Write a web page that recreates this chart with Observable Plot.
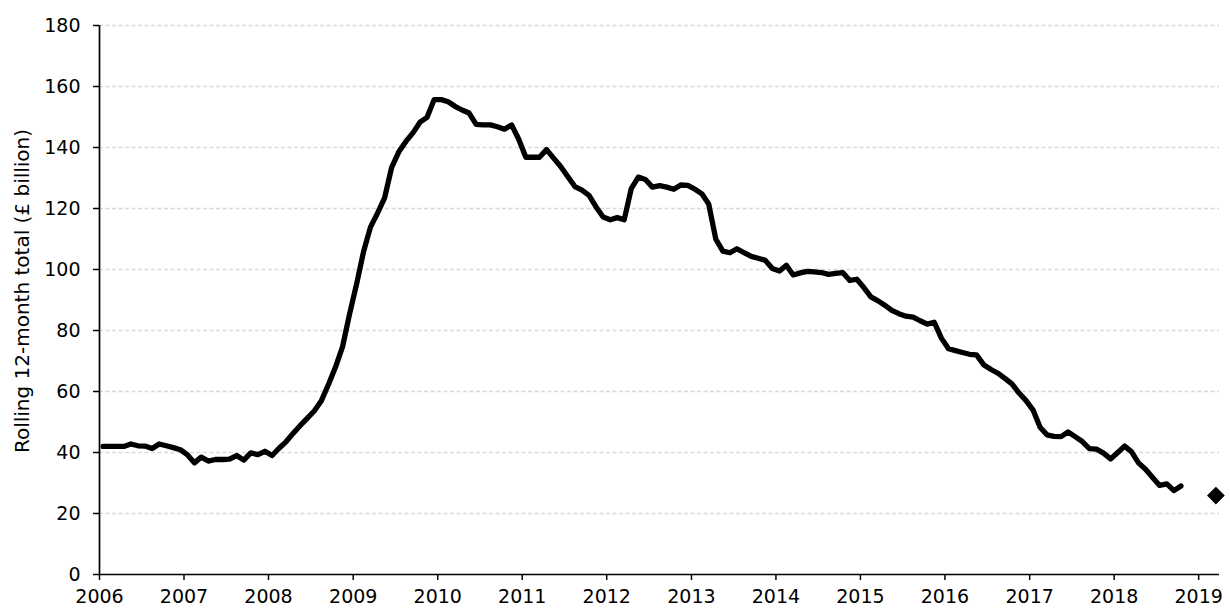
<!DOCTYPE html>
<html>
<head>
<meta charset="utf-8">
<script src="https://cdn.jsdelivr.net/npm/d3@7"></script>
<script src="https://cdn.jsdelivr.net/npm/@observablehq/plot@0.6"></script>
<style>
  html, body { margin: 0; padding: 0; background: #fff; }
  #chart { width: 1230px; height: 611px; }
</style>
</head>
<body>
<div id="chart"></div>
<script>
// ---- Data ----
const startYear = 2006;           // first month: January 2006, monthly data
const borrowing2006 = [42.0, 42.0, 42.0, 42.0, 42.8, 42.2, 42.1, 41.3, 42.8, 42.2, 41.6, 40.9];
const borrowing2007 = [39.2, 36.6, 38.5, 37.2, 37.7, 37.7, 37.8, 39.0, 37.5, 39.9, 39.3, 40.4];
const borrowing2008 = [39.0, 41.4, 43.5, 46.2, 48.8, 51.2, 53.6, 57.0, 62.3, 68.0, 74.7, 85.5];
const borrowing2009 = [95.5, 106.0, 113.9, 118.5, 123.5, 133.5, 138.5, 142.0, 144.8, 148.3, 149.9, 155.7];
const borrowing2010 = [155.7, 155.0, 153.5, 152.3, 151.3, 147.6, 147.4, 147.4, 146.8, 146.0, 147.4, 142.8];
const borrowing2011 = [136.8, 136.8, 136.8, 139.3, 136.5, 133.8, 130.5, 127.2, 126.0, 124.3, 120.5, 117.2];
const borrowing2012 = [116.3, 117.0, 116.3, 126.5, 130.3, 129.5, 127.0, 127.5, 127.0, 126.3, 127.7, 127.6];
const borrowing2013 = [126.3, 124.8, 121.5, 110.0, 106.0, 105.5, 106.8, 105.5, 104.3, 103.7, 103.0, 100.3];
const borrowing2014 = [99.5, 101.4, 98.2, 98.9, 99.4, 99.2, 99.0, 98.4, 98.7, 99.0, 96.4, 96.8];
const borrowing2015 = [94.0, 91.0, 89.8, 88.3, 86.6, 85.5, 84.7, 84.4, 83.2, 82.1, 82.7, 77.5];
const borrowing2016 = [74.0, 73.4, 72.8, 72.2, 72.0, 68.8, 67.3, 66.0, 64.3, 62.5, 59.5, 57.0];
const borrowing2017 = [53.8, 48.3, 45.8, 45.3, 45.2, 46.7, 45.2, 43.6, 41.3, 41.1, 39.8, 37.9];
const borrowing2018 = [40.0, 42.1, 40.3, 36.6, 34.5, 31.8, 29.2, 29.7, 27.5, 29.0]; // to October 2018

const forecastMonth = "2019-03";  // forecast marker
const forecastValue = 25.9;

const xTickYears = [2006, 2007, 2008, 2009, 2010, 2011, 2012, 2013, 2014, 2015, 2016, 2017, 2018, 2019];
const yTicks = [0, 20, 40, 60, 80, 100, 120, 140, 160, 180];
const yLabel = "Rolling 12-month total (£ billion)";
const xDomainStart = "2006-01";
const xDomainEnd = "2019-04";

// ---- Build table ----
const allValues = [].concat(borrowing2006, borrowing2007, borrowing2008, borrowing2009,
  borrowing2010, borrowing2011, borrowing2012, borrowing2013, borrowing2014,
  borrowing2015, borrowing2016, borrowing2017, borrowing2018);

function midMonth(y, m) { // m zero-based
  const a = Date.UTC(y, m, 1), b = Date.UTC(y, m + 1, 1);
  return new Date((a + b) / 2);
}
const parseMonth = s => { const [y, m] = s.split("-").map(Number); return [y, m - 1]; };

const series = allValues.map((v, i) => ({date: midMonth(startYear, i), value: v}));
const [fy, fm] = parseMonth(forecastMonth);
const forecast = [{date: midMonth(fy, fm), value: forecastValue}];
const [sy, sm] = parseMonth(xDomainStart);
const [ey, em] = parseMonth(xDomainEnd);
const x0 = new Date(Date.UTC(sy, sm, 1));
const x1 = new Date(Date.UTC(ey, em, 1));
const xTicks = xTickYears.map(y => new Date(Date.UTC(y, 0, 1)));

const FONT = "'DejaVu Sans', sans-serif";

const chart = Plot.plot({
  width: 1230,
  height: 611,
  marginLeft: 99,
  marginRight: 11,
  marginTop: 25,
  marginBottom: 37,
  style: {fontFamily: FONT, fontSize: "19px", color: "#000", background: "#fff"},
  x: {type: "utc", domain: [x0, x1]},
  y: {domain: [0, 180]},
  marks: [
    Plot.gridY(yTicks.filter(d => d > 0), {stroke: "#d9d9d9", strokeOpacity: 1, strokeWidth: 1.3, strokeDasharray: "4,2.5"}),
    Plot.axisY(yTicks, {tickSize: 6, tickPadding: 13, strokeWidth: 1.5, label: null, fontSize: 19}),
    Plot.axisX(xTicks, {tickSize: 6, tickPadding: 9, strokeWidth: 1.5, label: null, tickFormat: d3.utcFormat("%Y"), fontSize: 19}),
    Plot.ruleY([0], {stroke: "#000", strokeWidth: 1.7}),
    Plot.ruleX([x0], {stroke: "#000", strokeWidth: 1.7}),
    Plot.text([yLabel], {frameAnchor: "left", rotate: -90, dx: -77, dy: -9, lineAnchor: "middle", textAnchor: "middle", fontSize: 20, fill: "#000"}),
    Plot.lineY(series, {x: "date", y: "value", stroke: "#000", strokeWidth: 5.3, strokeLinejoin: "round", strokeLinecap: "round"}),
    Plot.dot(forecast, {x: "date", y: "value", symbol: "diamond2", r: 8, fill: "#000", stroke: "none"})
  ]
});
document.getElementById("chart").appendChild(chart);
</script>
</body>
</html>
